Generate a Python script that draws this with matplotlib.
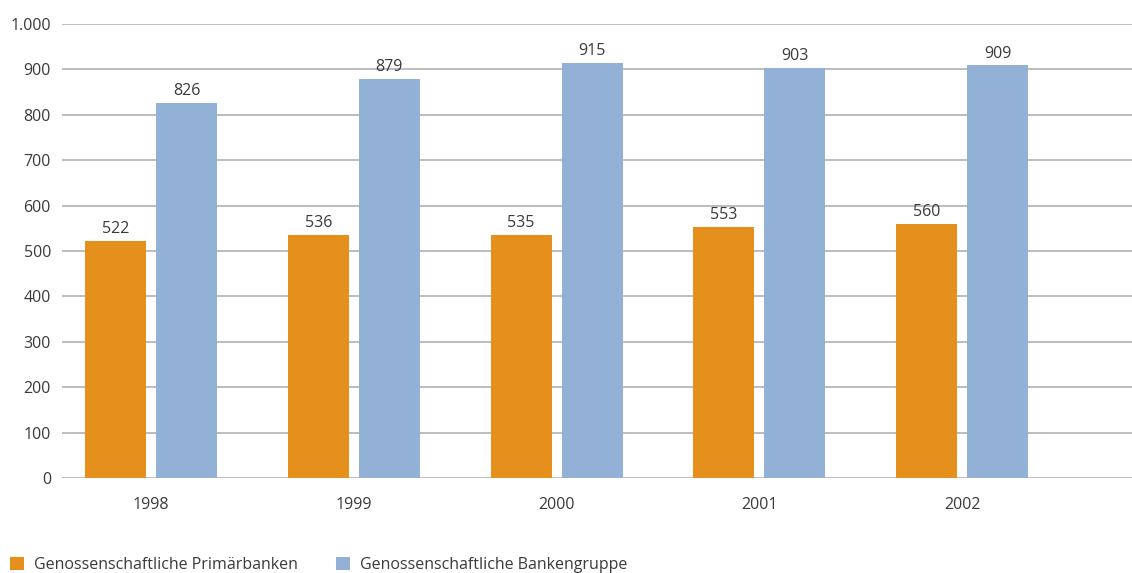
import matplotlib.pyplot as plt
import numpy as np

years = ["1998", "1999", "2000", "2001", "2002"]
primaerbanken = [522, 536, 535, 553, 560]
bankengruppe = [826, 879, 915, 903, 909]
series_names = ["Genossenschaftliche Primärbanken", "Genossenschaftliche Bankengruppe"]
yticks = [0, 100, 200, 300, 400, 500, 600, 700, 800, 900, 1000]
ytick_labels = ["0", "100", "200", "300", "400", "500", "600", "700", "800", "900", "1.000"]

plt.rcParams['font.family'] = ['Open Sans', 'DejaVu Sans']

orange = "#E5901C"
blue = "#93B1D7"
text_col = "#3a3a3a"
fs = 11.5

fig = plt.figure(figsize=(11.32, 5.73), dpi=100)
ax = fig.add_axes([62 / 1132, 1 - 478 / 573, 1 - 62 / 1132, (478 - 24) / 573])

x = np.arange(len(years))
w = 0.301
off = 0.175
b1 = ax.bar(x - off, primaerbanken, w, color=orange, zorder=3, label=series_names[0])
b2 = ax.bar(x + off, bankengruppe, w, color=blue, zorder=3, label=series_names[1])

for bars, vals in ((b1, primaerbanken), (b2, bankengruppe)):
    for r, v in zip(bars, vals):
        ax.text(r.get_x() + r.get_width() / 2, v + 8, str(v), ha="center", va="bottom",
                fontsize=fs, color=text_col)

ax.set_xlim(-0.439, 4.838)
ax.set_ylim(0, 1000)
ax.set_yticks(yticks)
ax.set_yticklabels(ytick_labels)
ax.set_xticks(x)
ax.set_xticklabels(years)
ax.tick_params(axis="y", length=0, pad=8, labelsize=fs, labelcolor=text_col)
ax.tick_params(axis="x", length=0, pad=14, labelsize=fs, labelcolor=text_col)
ax.grid(axis="y", color="#b8b8b8", linewidth=1.3, zorder=0)
ax.set_axisbelow(True)
for s in ax.spines.values():
    s.set_visible(False)

fig.legend(handles=[b1, b2], labels=series_names, loc="lower left",
           bbox_to_anchor=(-0.004, -0.025), ncol=2, frameon=False,
           handlelength=0.9, handleheight=0.9, handletextpad=0.6,
           columnspacing=2.4, fontsize=fs, labelcolor=text_col)

fig.savefig("out.png", dpi=100)
